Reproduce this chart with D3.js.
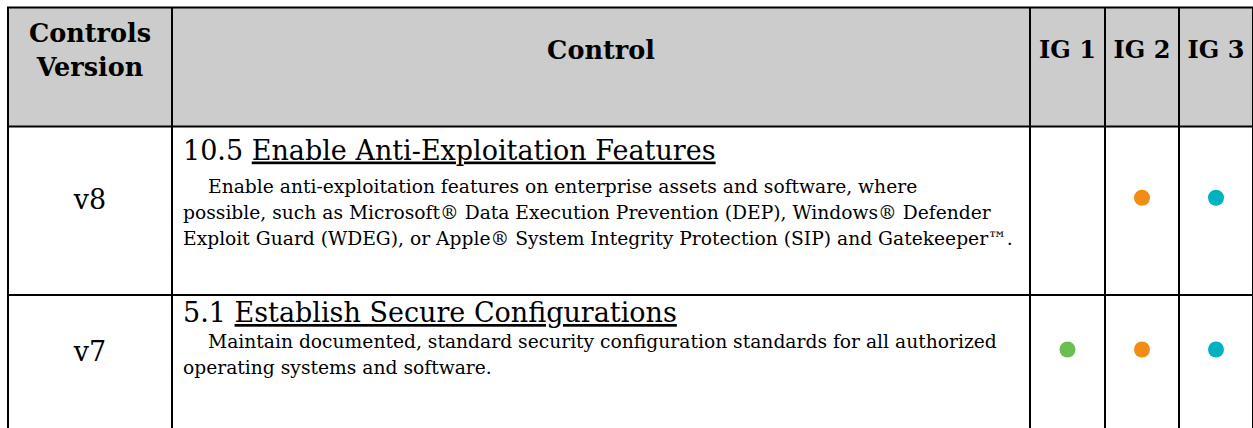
<!DOCTYPE html>
<html>
<head>
<meta charset="utf-8">
<script src="https://cdn.jsdelivr.net/npm/d3@7"></script>
<style>
  html, body { margin: 0; padding: 0; background: #ffffff; }
  svg { display: block; }
</style>
</head>
<body>
<svg id="chart" width="1253" height="428"></svg>
<script>
// ---- data ----
const headers = [["Controls", "Version"], ["Control"], ["IG 1"], ["IG 2"], ["IG 3"]];
const versions = ["v8", "v7"];
const controlIds = ["10.5", "5.1"];
const controlTitles = ["Enable Anti-Exploitation Features", "Establish Secure Configurations"];
const controlDescriptions = [
  ["Enable anti-exploitation features on enterprise assets and software, where",
   "possible, such as Microsoft® Data Execution Prevention (DEP), Windows® Defender",
   "Exploit Guard (WDEG), or Apple® System Integrity Protection (SIP) and Gatekeeper™."],
  ["Maintain documented, standard security configuration standards for all authorized",
   "operating systems and software."]
];
const ig1 = [false, true];
const ig2 = [true, true];
const ig3 = [true, true];
const igColors = ["#6cbd52", "#f28c12", "#00b1bf"];

// ---- layout ----
const FONT = "'DejaVu Serif', serif";
const colWidths = [164, 858, 75, 74, 74];
const rowHeights = [119, 168.5, 135];
const titleBase = [0, 33, 27];   // title baseline offset from row top
const descFirst = [0, 66, 53];   // first description baseline offset
const descStep = 26;
const x0 = 8, y0 = 7.5;

const colEdges = [x0];
colWidths.forEach(w => colEdges.push(colEdges[colEdges.length - 1] + w));
const rowEdges = [y0];
rowHeights.forEach(h => rowEdges.push(rowEdges[rowEdges.length - 1] + h));

const xCol = d3.scaleOrdinal().domain(d3.range(colWidths.length)).range(colEdges.slice(0, -1));
const yRow = d3.scaleOrdinal().domain(d3.range(rowHeights.length)).range(rowEdges.slice(0, -1));
const colMid = i => xCol(i) + colWidths[i] / 2;
const rowMid = i => yRow(i) + rowHeights[i] / 2;

const svg = d3.select("#chart");

// header background
svg.append("rect")
  .attr("x", x0).attr("y", y0)
  .attr("width", d3.sum(colWidths)).attr("height", rowHeights[0])
  .attr("fill", "#cccccc");

// header text
const hdrLine = 34;
headers.forEach((lines, i) => {
  const n = lines.length + 1; // content plus an empty paragraph
  const top = rowMid(0) - n * hdrLine / 2;
  lines.forEach((t, k) => {
    svg.append("text")
      .attr("x", colMid(i))
      .attr("y", top + k * hdrLine + hdrLine / 2)
      .attr("dy", "0.35em")
      .attr("text-anchor", "middle")
      .attr("font-family", FONT)
      .attr("font-weight", "bold")
      .attr("font-size", i >= 2 ? 24 : 25.5)
      .attr("fill", "#000")
      .text(t);
  });
});

// body rows
const rows = versions.map((v, i) => ({
  v, id: controlIds[i], title: controlTitles[i], desc: controlDescriptions[i],
  igs: [ig1[i], ig2[i], ig3[i]], r: i + 1
}));

const vOffset = 13;
const textX = xCol(1) + 11;

const rowG = svg.selectAll("g.row").data(rows).join("g").attr("class", "row");

rowG.append("text")
  .attr("x", colMid(0))
  .attr("y", d => rowMid(d.r) - vOffset + 2)
  .attr("dy", "0.35em")
  .attr("text-anchor", "middle")
  .attr("font-family", FONT)
  .attr("font-size", 27)
  .attr("fill", "#000")
  .text(d => d.v);

const titles = rowG.append("text")
  .attr("x", textX)
  .attr("y", d => yRow(d.r) + titleBase[d.r])
  .attr("font-family", FONT)
  .attr("font-size", 27)
  .attr("fill", "#000");
titles.append("tspan").text(d => d.id + " ");
titles.append("tspan").attr("text-decoration", "underline").text(d => d.title);

rowG.each(function(d) {
  const g = d3.select(this);
  d.desc.forEach((line, k) => {
    g.append("text")
      .attr("x", textX + (k === 0 ? 25 : 0))
      .attr("y", yRow(d.r) + descFirst[d.r] + k * descStep)
      .attr("font-family", FONT)
      .attr("font-size", 18.7)
      .attr("fill", "#000")
      .text(line);
  });
  d.igs.forEach((on, j) => {
    if (!on) return;
    g.append("circle")
      .attr("cx", colMid(j + 2))
      .attr("cy", rowMid(d.r) - vOffset)
      .attr("r", 8)
      .attr("fill", igColors[j]);
  });
});

// grid lines
const grid = svg.append("g").attr("stroke", "#000").attr("stroke-width", 2);
rowEdges.forEach(y => grid.append("line").attr("x1", x0 - 1).attr("x2", colEdges[colEdges.length - 1] + 1).attr("y1", y).attr("y2", y));
colEdges.forEach(x => grid.append("line").attr("x1", x).attr("x2", x).attr("y1", y0).attr("y2", rowEdges[rowEdges.length - 1]));
</script>
</body>
</html>
